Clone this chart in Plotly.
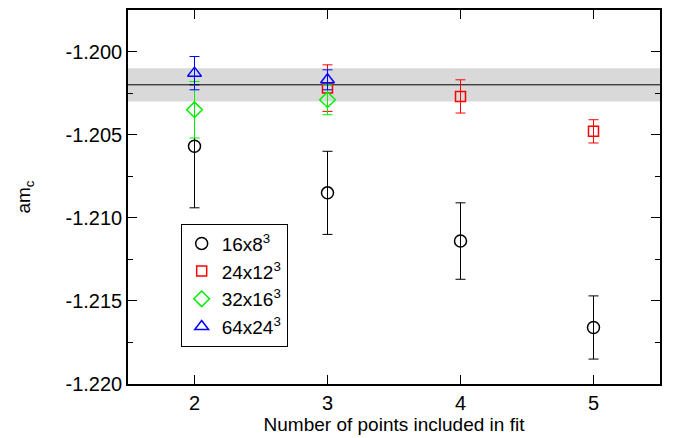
import plotly.graph_objects as go

x_vals = [2, 3, 4, 5]
names = ["16x8<sup>3</sup>", "24x12<sup>3</sup>", "32x16<sup>3</sup>", "64x24<sup>3</sup>"]

s16_x = [2, 3, 4, 5]
s16_y = [-1.2057, -1.2085, -1.2114, -1.2166]
s16_e = [0.0037, 0.0025, 0.0023, 0.0019]

s24_x = [3, 4, 5]
s24_y = [-1.2022, -1.2027, -1.2048]
s24_e = [0.0014, 0.0010, 0.0007]

s32_x = [2, 3]
s32_y = [-1.2035, -1.2029]
s32_e = [0.0017, 0.0009]

s64_x = [2, 3]
s64_y = [-1.2013, -1.2017]
s64_e = [0.0010, 0.0006]

fit_value = -1.2020
fit_err = 0.0010

y_tickvals = [-1.220, -1.215, -1.210, -1.205, -1.200]
y_ticktext = ["-1.220", "-1.215", "-1.210", "-1.205", "-1.200"]

FONT = "Liberation Sans, Arial, Helvetica, sans-serif"

series = [
    (s16_x, s16_y, s16_e, "circle-open", "black", 12),
    (s24_x, s24_y, s24_e, "square-open", "red", 10),
    (s32_x, s32_y, s32_e, "diamond-open", "#00ee00", 12),
    (s64_x, s64_y, s64_e, "triangle-up-open", "blue", 12),
]

fig = go.Figure()
for (xs, ys, es, sym, col, sz), nm in zip(series, names):
    fig.add_trace(go.Scatter(
        x=xs, y=ys, mode="markers", name=nm,
        marker=dict(symbol=sym, size=sz, color=col, line=dict(width=1.5, color=col)),
        error_y=dict(type="data", array=es, visible=True, color=col, thickness=1, width=5),
    ))

fig.add_shape(type="rect", xref="paper", x0=0, x1=1, yref="y",
              y0=fit_value - fit_err, y1=fit_value + fit_err,
              fillcolor="#d9d9d9", line=dict(width=0), layer="below")
fig.add_shape(type="line", xref="paper", x0=0, x1=1, yref="y",
              y0=fit_value, y1=fit_value, line=dict(color="black", width=1), layer="below")

fig.update_layout(
    width=673, height=438,
    margin=dict(l=128, r=13, t=8, b=54),
    paper_bgcolor="white", plot_bgcolor="white",
    font=dict(family=FONT, size=20, color="black"),
    showlegend=True,
    legend=dict(x=0.099, y=0.429, xanchor="left", yanchor="top",
                bgcolor="white", bordercolor="black", borderwidth=1,
                font=dict(size=19), tracegroupgap=0),
)
fig.update_xaxes(
    range=[1.5, 5.5], tickvals=x_vals, ticktext=[str(v) for v in x_vals],
    ticks="inside", ticklen=9, tickcolor="black", tickwidth=1,
    showline=True, linecolor="black", linewidth=1.5, mirror="ticks",
    showgrid=False, zeroline=False,
    title=dict(text="Number of points included in fit", font=dict(size=19), standoff=2),
)
fig.update_yaxes(
    range=[-1.220, -1.1975], tickvals=y_tickvals, ticktext=y_ticktext,
    ticks="inside", ticklen=9, tickcolor="black", tickwidth=1,
    minor=dict(dtick=0.005, tick0=-1.2025, ticks="inside", ticklen=5, tickcolor="black", tickwidth=1),
    showline=True, linecolor="black", linewidth=1.5, mirror="ticks",
    showgrid=False, zeroline=False,
    title=dict(text="am<sub>c</sub>", font=dict(size=19), standoff=30),
)

fig.write_html("out.html", config={"displayModeBar": False},
               post_script="document.body.style.margin='0';document.body.style.padding='0';")
